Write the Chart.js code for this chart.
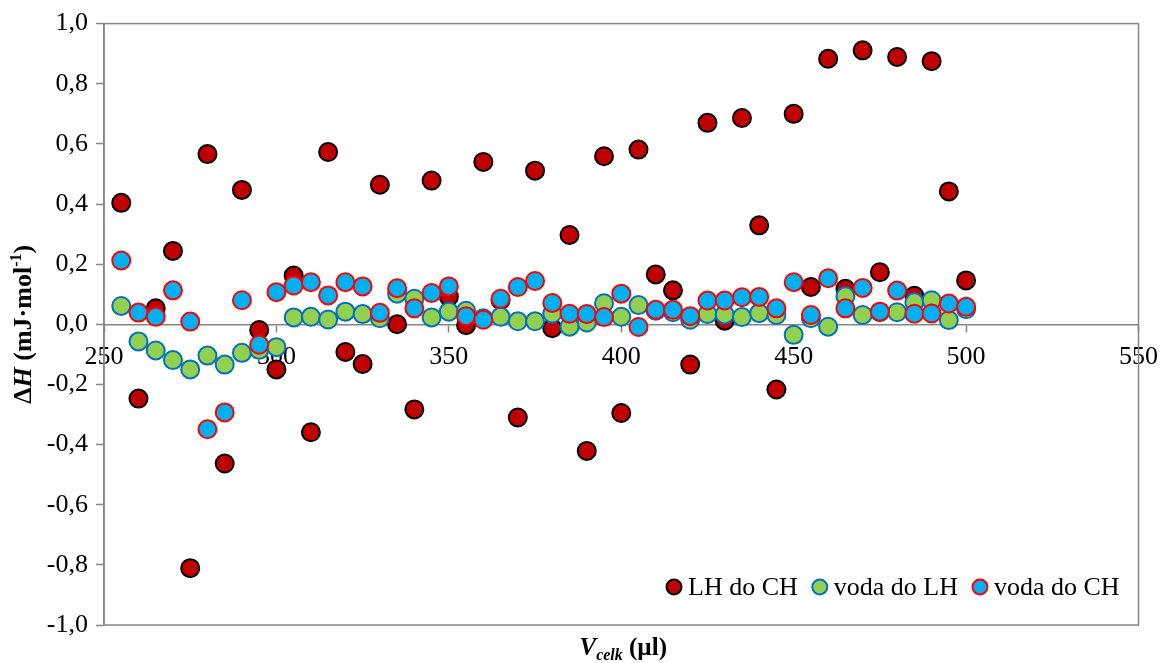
<!DOCTYPE html>
<html>
<head>
<meta charset="utf-8">
<script src="https://cdn.jsdelivr.net/npm/chart.js@4.4.1/dist/chart.umd.min.js"></script>
<style>
    html, body { margin: 0; padding: 0; background: #ffffff; }
    #wrap { width: 1168px; height: 663px; position: relative; }
</style>
</head>
<body>
<div id="wrap"><canvas id="chart" width="1168" height="663"></canvas></div>
<script>
// 体積 V_celk (µl)
const volumes = [
    255, 260, 265, 270, 275, 280, 285, 290, 295, 300,
    305, 310, 315, 320, 325, 330, 335, 340, 345, 350,
    355, 360, 365, 370, 375, 380, 385, 390, 395, 400,
    405, 410, 415, 420, 425, 430, 435, 440, 445, 450,
    455, 460, 465, 470, 475, 480, 485, 490, 495, 500
];

// ΔH (mJ·mol⁻¹)
const lhDoCh = [
    0.404, -0.247, 0.053, 0.244, -0.811, 0.566, -0.463, 0.447, -0.019, -0.150,
    0.162, -0.359, 0.573, -0.092, -0.132, 0.464, 0.000, -0.283, 0.478, 0.092,
    -0.003, 0.540, 0.080, -0.310, 0.511, -0.013, 0.297, -0.421, 0.559, -0.295,
    0.581, 0.166, 0.113, -0.134, 0.670, 0.012, 0.686, 0.329, -0.217, 0.700,
    0.124, 0.883, 0.118, 0.911, 0.173, 0.889, 0.095, 0.875, 0.442, 0.146
];
const vodaDoLh = [
    0.061, -0.057, -0.087, -0.119, -0.150, -0.104, -0.134, -0.095, -0.085, -0.076,
    0.023, 0.025, 0.016, 0.042, 0.034, 0.020, 0.102, 0.085, 0.023, 0.042,
    0.045, 0.020, 0.025, 0.010, 0.010, 0.036, -0.008, 0.006, 0.070, 0.025,
    0.064, 0.045, 0.040, 0.015, 0.034, 0.033, 0.024, 0.037, 0.031, -0.035,
    0.020, -0.008, 0.093, 0.031, 0.040, 0.040, 0.073, 0.080, 0.014, 0.050
];
const vodaDoCh = [
    0.212, 0.039, 0.025, 0.113, 0.009, -0.349, -0.293, 0.080, -0.068, 0.107,
    0.129, 0.140, 0.096, 0.140, 0.126, 0.038, 0.120, 0.053, 0.104, 0.126,
    0.027, 0.015, 0.085, 0.124, 0.144, 0.071, 0.035, 0.034, 0.024, 0.102,
    -0.009, 0.048, 0.048, 0.027, 0.079, 0.079, 0.090, 0.091, 0.053, 0.140,
    0.031, 0.153, 0.053, 0.121, 0.042, 0.112, 0.035, 0.036, 0.069, 0.058
];

const seriesLabels = ['LH do CH', 'voda do LH', 'voda do CH'];
const xTickValues = [250, 300, 350, 400, 450, 500, 550];
const yTickValues = [-1.0, -0.8, -0.6, -0.4, -0.2, 0.0, 0.2, 0.4, 0.6, 0.8, 1.0];

const FONT = "'Liberation Serif', 'Times New Roman', serif";
const AXIS_GREY = '#868686';

/**
 * 体積と値を点データに変換
 */
function toPoints(values) {
    return volumes.map((v, i) => ({ x: v, y: values[i] }));
}

/**
 * 小数点をカンマで表示
 */
function formatDecimal(value) {
    return value.toFixed(1).replace('.', ',');
}

/**
 * フォントの違うテキストを中央揃えで描画
 */
function drawRuns(ctx, runs, x, y) {
    let width = 0;
    runs.forEach(r => {
        ctx.font = r.font;
        width += ctx.measureText(r.text).width;
    });
    let cx = x - width / 2;
    runs.forEach(r => {
        ctx.font = r.font;
        ctx.fillText(r.text, cx, y + (r.dy || 0));
        cx += ctx.measureText(r.text).width;
    });
}

// プロットエリアの枠線
const plotFramePlugin = {
    id: 'plotFrame',
    beforeDatasetsDraw(chart) {
        const { ctx, chartArea: a } = chart;
        ctx.save();
        ctx.strokeStyle = AXIS_GREY;
        ctx.lineWidth = 1.5;
        ctx.strokeRect(a.left, a.top, a.right - a.left, a.bottom - a.top);
        ctx.restore();
    }
};

// 軸タイトル（斜体・上付き・下付きを含む）
const axisTitlePlugin = {
    id: 'axisTitles',
    afterDraw(chart) {
        const { ctx, chartArea: a } = chart;
        ctx.save();
        ctx.fillStyle = '#000000';
        ctx.textAlign = 'left';
        ctx.textBaseline = 'alphabetic';

        // x軸タイトル
        drawRuns(ctx, [
            { text: 'V', font: `italic bold 25px ${FONT}` },
            { text: 'celk', font: `italic bold 16px ${FONT}`, dy: 5 },
            { text: ' (µl)', font: `bold 25px ${FONT}` }
        ], (a.left + a.right) / 2 + 2, 655);

        // y軸タイトル
        ctx.translate(31, (a.top + a.bottom) / 2);
        ctx.rotate(-Math.PI / 2);
        drawRuns(ctx, [
            { text: 'Δ', font: `bold 26px ${FONT}` },
            { text: 'H', font: `italic bold 26px ${FONT}` },
            { text: ' (mJ·mol', font: `bold 26px ${FONT}` },
            { text: '-1', font: `bold 16px ${FONT}`, dy: -10 },
            { text: ')', font: `bold 26px ${FONT}` }
        ], 0, 0);
        ctx.restore();
    }
};

// プロットエリア内の凡例
const insideLegendPlugin = {
    id: 'insideLegend',
    afterDraw(chart) {
        const { ctx } = chart;
        const y = 587;
        let markerX = 674;
        ctx.save();
        ctx.font = `26px ${FONT}`;
        ctx.textAlign = 'left';
        ctx.textBaseline = 'middle';
        chart.data.datasets.forEach(ds => {
            ctx.beginPath();
            ctx.arc(markerX, y, 7.5, 0, Math.PI * 2);
            ctx.fillStyle = ds.pointBackgroundColor;
            ctx.fill();
            ctx.lineWidth = 2;
            ctx.strokeStyle = ds.pointBorderColor;
            ctx.stroke();
            ctx.fillStyle = '#000000';
            const textX = markerX + 14;
            ctx.fillText(ds.label, textX, y + 1);
            markerX = textX + ctx.measureText(ds.label).width + 22;
        });
        ctx.restore();
    }
};

const ctx = document.getElementById('chart').getContext('2d');

new Chart(ctx, {
    type: 'scatter',
    data: {
        datasets: [
            {
                label: seriesLabels[0],
                data: toPoints(lhDoCh),
                pointBackgroundColor: '#C00000',
                pointBorderColor: '#000000',
                pointBorderWidth: 2,
                pointRadius: 9,
                order: 2
            },
            {
                label: seriesLabels[1],
                data: toPoints(vodaDoLh),
                pointBackgroundColor: '#92D050',
                pointBorderColor: '#0070C0',
                pointBorderWidth: 2,
                pointRadius: 9,
                order: 1
            },
            {
                label: seriesLabels[2],
                data: toPoints(vodaDoCh),
                pointBackgroundColor: '#00B0F0',
                pointBorderColor: '#FF0000',
                pointBorderWidth: 2,
                pointRadius: 9,
                order: 0
            }
        ]
    },
    options: {
        responsive: false,
        animation: false,
        layout: {
            padding: { left: 0, top: 17, right: 28, bottom: 38 }
        },
        plugins: {
            legend: { display: false },
            tooltip: { enabled: false }
        },
        scales: {
            x: {
                type: 'linear',
                min: 250,
                max: 550,
                position: { y: 0 },
                afterBuildTicks: (scale) => {
                    scale.ticks = xTickValues.map(v => ({ value: v }));
                },
                grid: {
                    drawOnChartArea: false,
                    drawTicks: true,
                    tickLength: 7,
                    tickWidth: 1.5,
                    tickColor: AXIS_GREY
                },
                border: { color: AXIS_GREY, width: 1.5 },
                ticks: {
                    color: '#000000',
                    font: { family: FONT, size: 26 },
                    padding: 10,
                    maxRotation: 0
                }
            },
            y: {
                type: 'linear',
                min: -1,
                max: 1,
                position: 'left',
                afterBuildTicks: (scale) => {
                    scale.ticks = yTickValues.map(v => ({ value: v }));
                },
                afterFit: (scale) => {
                    scale.width = 104;
                },
                grid: {
                    drawOnChartArea: false,
                    drawTicks: true,
                    tickLength: 8,
                    tickWidth: 1.5,
                    tickColor: AXIS_GREY
                },
                border: { color: AXIS_GREY, width: 1.5 },
                ticks: {
                    color: '#000000',
                    font: { family: FONT, size: 26 },
                    padding: 8,
                    callback: (value) => formatDecimal(value)
                }
            }
        }
    },
    plugins: [plotFramePlugin, axisTitlePlugin, insideLegendPlugin]
});
</script>
</body>
</html>
